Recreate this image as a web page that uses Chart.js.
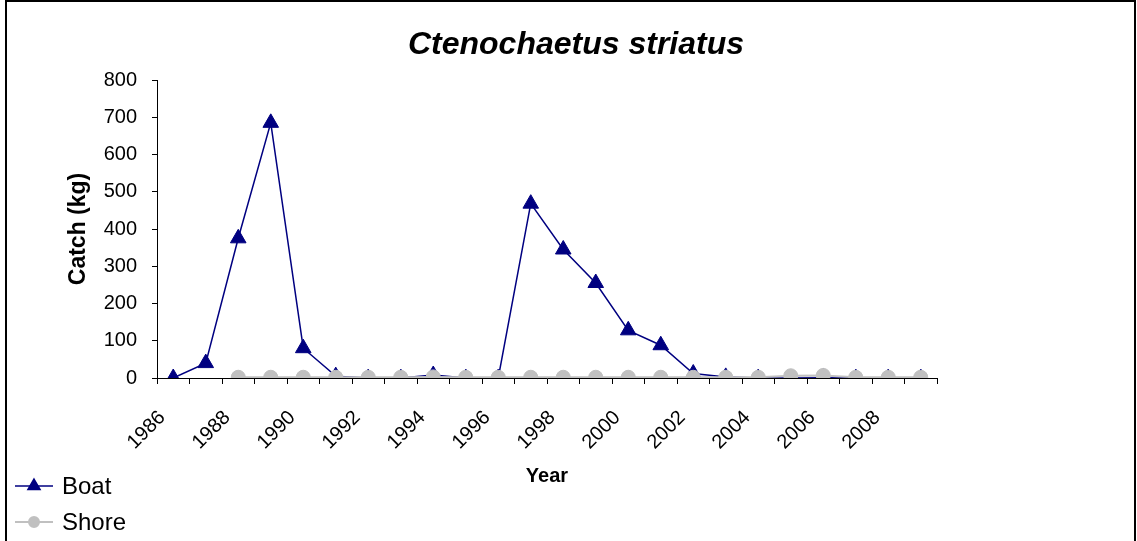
<!DOCTYPE html>
<html>
<head>
<meta charset="utf-8">
<title>Ctenochaetus striatus</title>
<script src="https://cdn.jsdelivr.net/npm/chart.js@4/dist/chart.umd.min.js"></script>
<style>
    html, body { margin: 0; padding: 0; background: #fff; }
    #chart { display: block; }
</style>
</head>
<body>
<canvas id="chart" width="1137" height="541"></canvas>
<script>
// Données
const years = ['1986', '1987', '1988', '1989', '1990', '1991', '1992', '1993', '1994', '1995', '1996', '1997',
               '1998', '1999', '2000', '2001', '2002', '2003', '2004', '2005', '2006', '2007', '2008', '2009'];
const boatCatch = [0, 40, 375, 685, 80, 5, 0, 0, 8, 0, 0, 468,
                   345, 255, 128, 88, 12, 3, 0, 0, 1, 0, 0, 0];
const shoreCatch = [null, null, 2, 2, 2, 2, 2, 2, 3, 2, 2, 2,
                    2, 2, 2, 2, 2, 2, 2, 6, 7, 2, 2, 2];
const yTicks = [0, 100, 200, 300, 400, 500, 600, 700, 800];

const chartTitle = 'Ctenochaetus striatus';
const FONT = '"Liberation Sans", Arial, sans-serif';

Chart.defaults.font.family = FONT;
Chart.defaults.color = '#000';

/**
 * Fond blanc, cadre et titre
 */
const framePlugin = {
    id: 'frame',
    beforeDraw(chart) {
        const ctx = chart.ctx;
        ctx.save();
        ctx.fillStyle = '#fff';
        ctx.fillRect(0, 0, chart.width, chart.height);
        ctx.strokeStyle = '#000';
        ctx.lineWidth = 2;
        ctx.strokeRect(6, 1, 1129, 600);
        ctx.restore();
    },
    afterDraw(chart) {
        const ctx = chart.ctx;
        ctx.save();
        ctx.fillStyle = '#000';
        ctx.font = 'italic bold 32px ' + FONT;
        ctx.textAlign = 'center';
        ctx.textBaseline = 'middle';
        ctx.fillText(chartTitle, 576, 45);
        ctx.restore();
    }
};

/**
 * Légende verticale en bas à gauche
 */
const legendPlugin = {
    id: 'sideLegend',
    afterDraw(chart) {
        const ctx = chart.ctx;
        const rows = [486, 522];
        chart.data.datasets.forEach((ds, i) => {
            const y = rows[i];
            ctx.save();
            ctx.strokeStyle = ds.borderColor;
            ctx.lineWidth = ds.borderWidth;
            ctx.beginPath();
            ctx.moveTo(15, y);
            ctx.lineTo(53, y);
            ctx.stroke();
            ctx.fillStyle = ds.pointBackgroundColor;
            ctx.strokeStyle = ds.pointBorderColor;
            Chart.helpers.drawPoint(ctx, {
                pointStyle: ds.pointStyle,
                radius: ds.legendRadius,
                borderWidth: 1,
                rotation: 0
            }, 34, y);
            ctx.fillStyle = '#000';
            ctx.font = '24px ' + FONT;
            ctx.textAlign = 'left';
            ctx.textBaseline = 'middle';
            ctx.fillText(ds.label, 62, y + 1);
            ctx.restore();
        });
    }
};

new Chart(document.getElementById('chart'), {
    type: 'line',
    data: {
        labels: years,
        datasets: [{
            label: 'Boat',
            data: boatCatch,
            borderColor: '#000080',
            borderWidth: 1.5,
            pointStyle: 'triangle',
            pointRadius: 9,
            legendRadius: 7,
            pointBackgroundColor: '#000080',
            pointBorderColor: '#000080',
            pointBorderWidth: 1,
            tension: 0,
            order: 2
        }, {
            label: 'Shore',
            data: shoreCatch,
            borderColor: '#c0c0c0',
            borderWidth: 2,
            pointStyle: 'circle',
            pointRadius: 7,
            legendRadius: 5,
            pointBackgroundColor: '#c0c0c0',
            pointBorderColor: '#c0c0c0',
            pointBorderWidth: 1,
            tension: 0,
            spanGaps: false,
            order: 1
        }]
    },
    options: {
        responsive: false,
        animation: false,
        devicePixelRatio: 1,
        layout: {
            padding: { left: 7, right: 200, top: 80, bottom: 0 }
        },
        plugins: {
            legend: { display: false },
            title: { display: false },
            tooltip: { enabled: false }
        },
        scales: {
            x: {
                type: 'category',
                offset: true,
                grid: {
                    display: true,
                    drawOnChartArea: false,
                    offset: true,
                    tickLength: 6,
                    color: '#000'
                },
                border: { color: '#000', width: 1 },
                ticks: {
                    autoSkip: false,
                    minRotation: 45,
                    maxRotation: 45,
                    padding: 22,
                    labelOffset: -11,
                    font: { size: 20 },
                    color: '#000',
                    callback: function(value, index) {
                        return index % 2 === 0 ? this.getLabelForValue(value) : '';
                    }
                },
                title: {
                    display: true,
                    text: 'Year',
                    color: '#000',
                    font: { size: 20, weight: 'bold' },
                    padding: { top: 0, bottom: 53 }
                },
                afterFit: function(scale) {
                    scale.height = 163;
                }
            },
            y: {
                min: 0,
                max: 800,
                afterBuildTicks: function(scale) {
                    scale.ticks = yTicks.map(v => ({ value: v }));
                },
                grid: {
                    display: true,
                    drawOnChartArea: false,
                    tickLength: 5,
                    color: '#000'
                },
                border: { color: '#000', width: 1 },
                ticks: {
                    padding: 15,
                    font: { size: 20 },
                    color: '#000'
                },
                title: {
                    display: true,
                    text: 'Catch (kg)',
                    color: '#000',
                    font: { size: 23, weight: 'bold' },
                    padding: { top: 58, bottom: 0 }
                },
                afterFit: function(scale) {
                    scale.width = 150;
                }
            }
        }
    },
    plugins: [framePlugin, legendPlugin]
});
</script>
</body>
</html>
